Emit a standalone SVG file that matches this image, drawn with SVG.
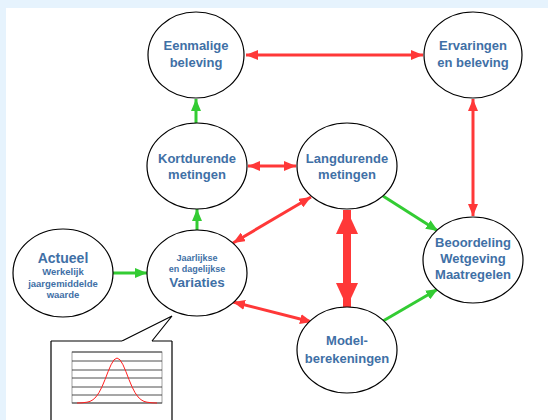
<svg xmlns="http://www.w3.org/2000/svg" width="548" height="420" viewBox="0 0 548 420">
<defs>
<style>
.node ellipse{fill:#fff;stroke:#000;stroke-width:1.2}
.t{font-family:"Liberation Sans",Arial,sans-serif;font-weight:bold;fill:#3f70a6;text-anchor:middle}
.m{font-size:13px}
.s{font-size:9.5px}
.red{stroke:#ff3838;stroke-width:3;fill:none}
.green{stroke:#33cc33;stroke-width:3;fill:none}
.thick{stroke:#ff3838;stroke-width:8;fill:none}
</style>
<marker id="rh" markerUnits="userSpaceOnUse" markerWidth="12" markerHeight="10" refX="12" refY="5" orient="auto-start-reverse"><path d="M0,0 L12,5 L0,10 z" fill="#ff3838"/></marker>
<marker id="gh" markerUnits="userSpaceOnUse" markerWidth="12" markerHeight="10" refX="12" refY="5" orient="auto"><path d="M0,0 L12,5 L0,10 z" fill="#33cc33"/></marker>
<marker id="th" markerUnits="userSpaceOnUse" markerWidth="24" markerHeight="22" refX="24" refY="11" orient="auto-start-reverse"><path d="M0,0 L24,11 L0,22 z" fill="#ff3838"/></marker>
</defs>
<rect width="548" height="420" fill="#e6f3fd"/>
<rect x="6" y="8" width="542" height="412" fill="#fff"/>

<g id="connectors">
<line class="red" x1="246" y1="55" x2="423" y2="55" marker-start="url(#rh)" marker-end="url(#rh)"/>
<line class="green" x1="196" y1="124" x2="196" y2="99" marker-end="url(#gh)"/>
<line class="red" x1="473" y1="99" x2="473" y2="216" marker-start="url(#rh)" marker-end="url(#rh)"/>
<line class="red" x1="248" y1="166" x2="296" y2="166" marker-start="url(#rh)" marker-end="url(#rh)"/>
<line class="green" x1="197" y1="230" x2="197" y2="209" marker-end="url(#gh)"/>
<line class="red" x1="233" y1="243" x2="311" y2="197" marker-start="url(#rh)" marker-end="url(#rh)"/>
<line class="green" x1="383" y1="196" x2="438" y2="231" marker-end="url(#gh)"/>
<line class="thick" x1="347" y1="210" x2="347" y2="307" marker-start="url(#th)" marker-end="url(#th)"/>
<line class="green" x1="113" y1="273" x2="147" y2="273" marker-end="url(#gh)"/>
<line class="red" x1="233" y1="302" x2="312" y2="322" marker-start="url(#rh)" marker-end="url(#rh)"/>
<line class="green" x1="383" y1="321" x2="438" y2="289" marker-end="url(#gh)"/>
</g>

<g id="eenmalige" class="node"><ellipse cx="196" cy="55" rx="48" ry="43"/>
<text class="t m" x="196" y="50">Eenmalige</text><text class="t m" x="196" y="67">beleving</text></g>

<g id="ervaringen" class="node"><ellipse cx="473" cy="55" rx="49" ry="43"/>
<text class="t m" x="473" y="50">Ervaringen</text><text class="t m" x="473" y="67">en beleving</text></g>

<g id="kortdurende" class="node"><ellipse cx="197" cy="166" rx="50" ry="43"/>
<text class="t m" x="197" y="163">Kortdurende</text><text class="t m" x="197" y="179">metingen</text></g>

<g id="langdurende" class="node"><ellipse cx="347" cy="166" rx="50" ry="43"/>
<text class="t m" x="347" y="163">Langdurende</text><text class="t m" x="347" y="179">metingen</text></g>

<g id="beoordeling" class="node"><ellipse cx="473" cy="260" rx="50" ry="43"/>
<text class="t m" x="473" y="247">Beoordeling</text><text class="t m" x="473" y="263">Wetgeving</text><text class="t m" x="473" y="279">Maatregelen</text></g>

<g id="actueel" class="node"><ellipse cx="63" cy="273" rx="50" ry="44"/>
<text class="t" style="font-size:14px" x="63" y="263">Actueel</text>
<text class="t s" x="63" y="275">Werkelijk</text><text class="t s" x="63" y="287">jaargemiddelde</text><text class="t s" x="63" y="298">waarde</text></g>

<g id="variaties" class="node"><ellipse cx="197" cy="273" rx="50" ry="43"/>
<text class="t" style="font-size:9px" x="197" y="261">Jaarlijkse</text><text class="t" style="font-size:9px" x="197" y="272">en dagelijkse</text>
<text class="t" style="font-size:13.5px" x="197" y="287">Variaties</text></g>

<g id="model" class="node"><ellipse cx="347" cy="350" rx="50" ry="43"/>
<text class="t m" x="347" y="345">Model-</text><text class="t m" x="347" y="363">berekeningen</text></g>

<g id="callout">
<path d="M122,341 L172,316 L152,341" fill="#fff" stroke="#000" stroke-width="1.2"/>
<rect x="51.6" y="341.6" width="119.8" height="80" fill="#fff"/>
<path d="M51,341 L51,421 M172,421 L172,341 M51,341 L122,341 M152,341 L172,341" stroke="#000" stroke-width="1.2" fill="none"/>
<rect x="72" y="352" width="90" height="51" fill="#fff" stroke="#888" stroke-width="0.8"/>
<g stroke="#222" stroke-width="0.8">
<line x1="72" y1="352" x2="162" y2="352"/><line x1="72" y1="361" x2="162" y2="361"/><line x1="72" y1="370" x2="162" y2="370"/><line x1="72" y1="378" x2="162" y2="378"/><line x1="72" y1="387" x2="162" y2="387"/><line x1="72" y1="395" x2="162" y2="395"/><line x1="72" y1="403" x2="162" y2="403"/>
</g>
<polyline fill="none" stroke="#ff2020" stroke-width="1" points="77,403 82,402.8 87,402.2 90,401.4 93,399.7 96,396.9 99,392.6 102,386.8 105,379.6 108,371.8 111,364.8 114,359.8 117,358 120,359.8 123,364.8 126,371.8 129,379.6 132,386.8 135,392.6 138,396.9 141,399.7 144,401.4 147,402.2 152,402.8 157,403"/>
</g>
</svg>
